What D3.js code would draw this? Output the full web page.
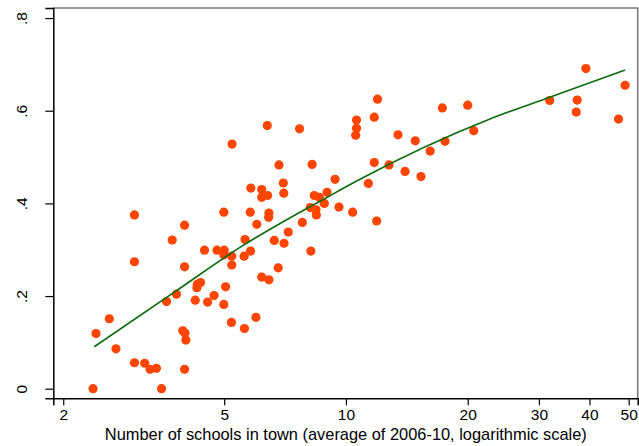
<!DOCTYPE html>
<html>
<head>
<meta charset="utf-8">
<script src="https://cdn.jsdelivr.net/npm/d3@7"></script>
<style>
  html, body { margin: 0; padding: 0; background: #fff; }
  svg { display: block; }
  text { font-family: Arial, "Liberation Sans", Helvetica, sans-serif; fill: #000; }
</style>
</head>
<body>
<svg id="chart" width="639" height="446"></svg>
<script>
// Number of schools in town (x, log scale)
const schools = [2.37, 2.41, 2.60, 2.70, 3.00, 3.00, 3.00, 3.18, 3.28, 3.40,
  3.50, 3.60, 3.72, 3.81, 3.95, 4.00, 4.02, 3.99, 3.99, 3.99,
  4.24, 4.29, 4.37, 4.28, 4.47, 4.55, 4.72, 4.80, 4.99, 5.00,
  4.99, 4.99, 5.04, 5.22, 5.22, 5.21, 5.23, 5.61, 5.63, 5.60,
  5.81, 5.80, 5.82, 5.99, 6.02, 6.19, 6.19, 6.40, 6.19, 6.45,
  6.39, 6.45, 6.44, 6.65, 6.80, 6.83, 7.00, 7.02, 7.03, 7.20,
  7.68, 7.80, 8.19, 8.16, 8.25, 8.35, 8.43, 8.45, 8.59, 8.84,
  8.98, 9.40, 9.61, 10.39, 10.57, 10.62, 10.62, 11.36, 11.75, 11.75,
  11.91, 11.97, 12.78, 13.45, 14.00, 14.84, 15.33, 16.15, 17.31, 17.58,
  20.0, 20.7, 31.9, 37.1, 37.3, 39.2, 47.2, 49.0];
// Outcome share (y)
const share = [0.000, 0.119, 0.151, 0.086, 0.375, 0.274, 0.056, 0.055, 0.042, 0.044,
  0.000, 0.188, 0.321, 0.204, 0.125, 0.120, 0.105, 0.042, 0.353, 0.263,
  0.191, 0.225, 0.229, 0.218, 0.299, 0.187, 0.201, 0.299, 0.381, 0.299,
  0.289, 0.182, 0.220, 0.286, 0.267, 0.143, 0.528, 0.130, 0.322, 0.286,
  0.297, 0.381, 0.433, 0.154, 0.355, 0.430, 0.413, 0.417, 0.241, 0.235,
  0.568, 0.379, 0.370, 0.320, 0.261, 0.483, 0.444, 0.422, 0.314, 0.338,
  0.561, 0.359, 0.297, 0.391, 0.484, 0.417, 0.386, 0.375, 0.413, 0.400,
  0.424, 0.452, 0.392, 0.381, 0.547, 0.562, 0.580, 0.443, 0.586, 0.488,
  0.362, 0.625, 0.483, 0.548, 0.469, 0.535, 0.458, 0.513, 0.606, 0.534,
  0.612, 0.557, 0.622, 0.597, 0.623, 0.691, 0.582, 0.655];
// Fitted curve
const fitX = [2.386, 3.78, 5.47, 9.13, 10.83, 22.7, 31.9, 49.0];
const fitY = [0.0906, 0.2094, 0.305, 0.4166, 0.452, 0.5821, 0.629, 0.6879];
// Axis ticks
const xTicks = [2, 5, 10, 20, 30, 40, 50];
const yTicks = [0, 0.2, 0.4, 0.6, 0.8];
const yTickLabels = ["0", ".2", ".4", ".6", ".8"];
const xTitle = "Number of schools in town (average of 2006-10, logarithmic scale)";

const svg = d3.select("#chart");
const plot = { left: 53.3, right: 637.7, top: 8, bottom: 398.3 };

const x = d3.scaleLog().domain([1.890, 52.64]).range([plot.left, plot.right]);
const y = d3.scaleLinear().domain([-0.0207, 0.8217]).range([plot.bottom, plot.top]);

// frame (top and right)
svg.append("path")
  .attr("d", `M${plot.left},${plot.top}H${plot.right}V${plot.bottom}`)
  .attr("fill", "none").attr("stroke", "#7a7a7a").attr("stroke-width", 1.6);

// points
svg.append("g").selectAll("circle")
  .data(schools.map((s, i) => [s, share[i]]))
  .join("circle")
  .attr("cx", d => x(d[0]))
  .attr("cy", d => y(d[1]))
  .attr("r", 4.6)
  .attr("fill", "#ff4500");

// fitted line
svg.append("path")
  .datum(fitX.map((v, i) => [v, fitY[i]]))
  .attr("fill", "none")
  .attr("stroke", "#0a6b0a")
  .attr("stroke-width", 1.6)
  .attr("d", d3.line().x(d => x(d[0])).y(d => y(d[1])).curve(d3.curveMonotoneX));

// x axis
const gx = svg.append("g")
  .attr("transform", `translate(0,${plot.bottom})`)
  .call(d3.axisBottom(x).tickValues(xTicks).tickFormat(d3.format("d")).tickSizeOuter(0).tickSize(7).tickPadding(4));
gx.select(".domain").attr("stroke", "#000").attr("stroke-width", 1.5);
gx.selectAll(".tick line").attr("stroke", "#000").attr("stroke-width", 1.2);
gx.selectAll(".tick text").attr("font-size", 15.5).attr("font-family", "Arial, 'Liberation Sans', sans-serif").attr("fill", "#000");

// y axis
const gy = svg.append("g")
  .attr("transform", `translate(${plot.left},0)`)
  .call(d3.axisLeft(y).tickValues(yTicks).tickFormat((d, i) => yTickLabels[i]).tickSizeOuter(0).tickSize(8));
gy.select(".domain").attr("stroke", "#000").attr("stroke-width", 1.5);
gy.selectAll(".tick line").attr("stroke", "#000").attr("stroke-width", 1.2);
gy.selectAll(".tick text")
  .attr("font-size", 15.5)
  .attr("font-family", "Arial, 'Liberation Sans', sans-serif")
  .attr("fill", "#000")
  .attr("x", null).attr("dy", null)
  .attr("text-anchor", "middle")
  .attr("transform", `translate(${27 - plot.left},0) rotate(-90)`);

// x title
svg.append("text")
  .attr("x", 345.8)
  .attr("y", 440)
  .attr("text-anchor", "middle")
  .attr("font-size", 16.4)
  .text(xTitle);
</script>
</body>
</html>
